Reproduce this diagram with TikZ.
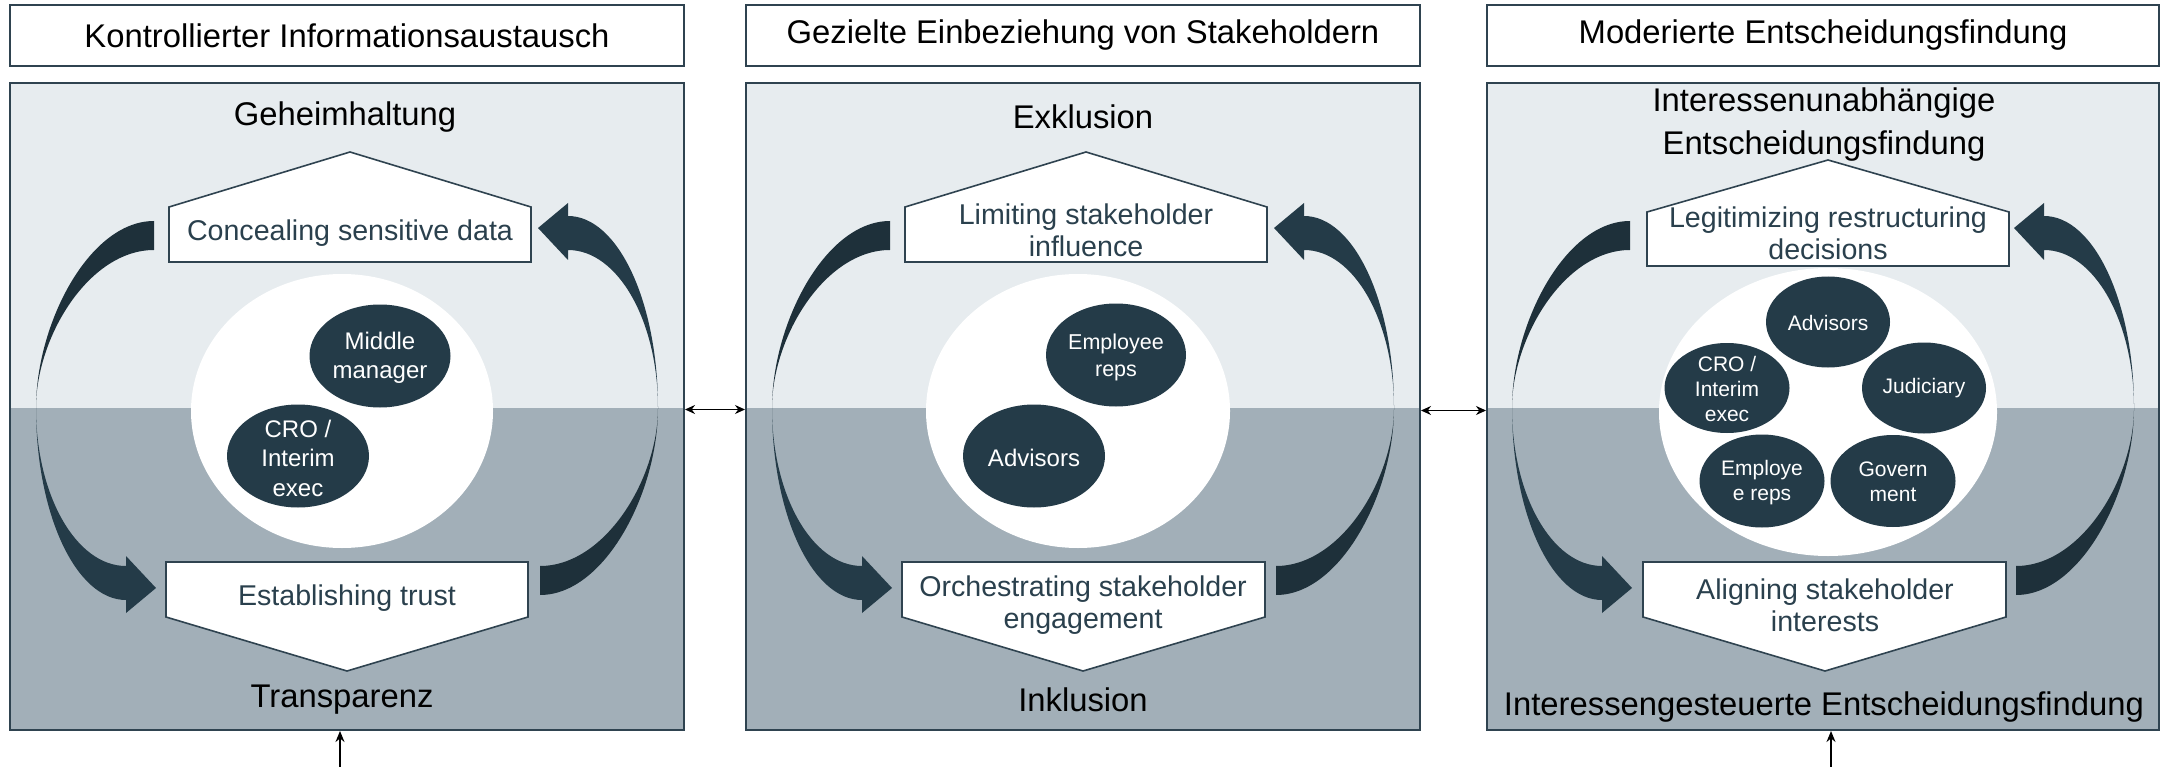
\documentclass[tikz,border=0pt]{standalone}
\usepackage{fontspec}
\setmainfont{Liberation Sans}
\usetikzlibrary{arrows.meta}
\definecolor{lightpanel}{HTML}{E7ECEF}
\definecolor{darkpanel}{HTML}{A2AFB8}
\definecolor{slate}{HTML}{243B48}
\definecolor{slatedark}{HTML}{1E303A}
\definecolor{edge}{HTML}{2F4350}
\definecolor{boxtext}{HTML}{2A404D}
\tikzset{
  pics/cyc/.style={code={
    \fill[slatedark] (-193,-187) .. controls (-258,-187) and (-311,-84) .. (-311,0)
      .. controls (-311,-71) and (-258,-158) .. (-193,-158) -- cycle;
    \fill[slate] (-311,0) .. controls (-311,106) and (-271,192) .. (-221,192)
      -- (-221,205) -- (-191,180) -- (-221,148) -- (-221,158)
      .. controls (-271,158) and (-311,87) .. (-311,0) -- cycle;
  }}
}
\begin{document}
\begin{tikzpicture}[x=1pt,y=-1pt,
  titlebox/.style={draw=edge, line width=1.5pt, fill=white, minimum height=61pt, inner sep=0pt, font=\fontsize{32.8}{38}\selectfont},
  panelframe/.style={draw=edge, line width=2pt, minimum height=647pt, inner sep=0pt},
  lbl/.style={font=\fontsize{32.8}{43}\selectfont, align=center, inner sep=0pt},
  pentbox/.style={draw=edge, line width=1.6pt, fill=white, line join=miter},
  boxtxt/.style={text=boxtext, font=\fontsize{28.6}{32}\selectfont, align=center, inner sep=0pt},
  stk/.style={fill=slate},
  stktext/.style={text=white, align=center, inner sep=0pt, font=\fontsize{24}{29.5}\selectfont},
  stksmall/.style={text=white, align=center, inner sep=0pt, font=\fontsize{21}{25}\selectfont},
  link/.style={line width=1.5pt, {Stealth[length=10pt,width=9pt]}-{Stealth[length=10pt,width=9pt]}},
  uplink/.style={line width=1.5pt, -{Stealth[length=11pt,width=9pt]}}
]
\useasboundingbox (0,0) rectangle (2165,767);

% panel fills
\fill[lightpanel] (10,83) rectangle (684,408);
\fill[darkpanel] (10,408) rectangle (684,730);
\fill[lightpanel] (746,83) rectangle (1420,408);
\fill[darkpanel] (746,408) rectangle (1420,730);
\fill[lightpanel] (1487,83) rectangle (2159,408);
\fill[darkpanel] (1487,408) rectangle (2159,730);

% cycle arrows
\pic at (347,408) {cyc};
\pic[rotate=180] at (347,408) {cyc};
\pic at (1083,408) {cyc};
\pic[rotate=180] at (1083,408) {cyc};
\pic at (1823,408) {cyc};
\pic[rotate=180] at (1823,408) {cyc};

% big white ellipses
\fill[white] (342,411) ellipse [x radius=151pt, y radius=137pt];
\fill[white] (1078,411) ellipse [x radius=152pt, y radius=137pt];
\fill[white] (1828,412) ellipse [x radius=169pt, y radius=144pt];

% stakeholders panel 1
\fill[stk] (380,356) ellipse [x radius=70.5pt, y radius=51.5pt];
\node[stktext] (mm) at (380,358) {Middle\\manager};
\fill[stk] (298,456) ellipse [x radius=71pt, y radius=51.5pt];
\node[stktext] (cro1) at (298,458) {CRO /\\Interim\\exec};
% stakeholders panel 2
\fill[stk] (1116,355) ellipse [x radius=70pt, y radius=51.5pt];
\node[stktext, font=\fontsize{21.5}{27}\selectfont] (emp2) at (1116,357) {Employee\\reps};
\fill[stk] (1034,456) ellipse [x radius=71pt, y radius=51.5pt];
\node[stktext] (adv2) at (1034,458) {Advisors};
% stakeholders panel 3
\fill[stk] (1828,322) ellipse [x radius=62pt, y radius=45.5pt];
\node[stksmall] (adv3) at (1828,323) {Advisors};
\fill[stk] (1727,388) ellipse [x radius=62.5pt, y radius=45pt];
\node[stksmall] (cro3) at (1727,389) {CRO /\\Interim\\exec};
\fill[stk] (1924,388) ellipse [x radius=62pt, y radius=45.5pt];
\node[stksmall] (jud3) at (1924,388) {Judiciary};
\fill[stk] (1762,481) ellipse [x radius=62.5pt, y radius=46.5pt];
\node[stksmall] (emp3) at (1762,483) {Employe\\e reps};
\fill[stk] (1893,481) ellipse [x radius=62.5pt, y radius=46pt];
\node[stksmall] (gov3) at (1893,482) {Govern\\ment};

% top pentagons
\filldraw[pentbox] (169,262) -- (169,207) -- (350,152) -- (531,207) -- (531,262) -- cycle;
\node[boxtxt] (c1) at (350,233) {Concealing sensitive data};
\filldraw[pentbox] (905,262) -- (905,207) -- (1086,152) -- (1267,207) -- (1267,262) -- cycle;
\node[boxtxt] (l2) at (1086,230) {Limiting stakeholder\\influence};
\filldraw[pentbox] (1647,266) -- (1647,212) -- (1828,160) -- (2009,212) -- (2009,266) -- cycle;
% bottom pentagons
\filldraw[pentbox] (166,562) -- (528,562) -- (528,617) -- (347,671) -- (166,617) -- cycle;
\node[boxtxt] (e1) at (347,598) {Establishing trust};
\filldraw[pentbox] (902,562) -- (1265,562) -- (1265,617) -- (1083,671) -- (902,617) -- cycle;
\node[boxtxt] (o2) at (1083,605) {Orchestrating stakeholder\\engagement};
\filldraw[pentbox] (1643,562) -- (2006,562) -- (2006,617) -- (1825,671) -- (1643,617) -- cycle;
\node[boxtxt] (a3) at (1825,605) {Aligning stakeholder\\interests};

% labels
\node[lbl] (g1) at (345,117) {Geheimhaltung};
\node[lbl] (tr1) at (342,700) {Transparenz};
\node[lbl] (x2) at (1083,117) {Exklusion};
\node[lbl] (in2) at (1083,700) {Inklusion};
\node[lbl] (iu3) at (1824,125) {Interessenunabhängige\\Entscheidungsfindung};
\node[boxtxt] (g3) at (1828,233) {Legitimizing restructuring\\decisions};
\node[lbl] (ig3) at (1824,707) {Interessengesteuerte Entscheidungsfindung};

% panel frames
\node[panelframe, minimum width=674pt] (p1) at (347,406.5) {};
\node[panelframe, minimum width=674pt] (p2) at (1083,406.5) {};
\node[panelframe, minimum width=672pt] (p3) at (1823,406.5) {};

% title boxes
\node[titlebox, minimum width=674pt] (t1) at (347,35.5) {Kontrollierter Informationsaustausch};
\node[titlebox, minimum width=674pt] (t2) at (1083,35.5) {Gezielte Einbeziehung von Stakeholdern};
\node[titlebox, minimum width=672pt] (t3) at (1823,35.5) {Moderierte Entscheidungsfindung};

% connectors
\draw[link] ([yshift=-3pt]p1.east) -- ([yshift=-3pt]p2.west);
\draw[link] ([yshift=-4pt]p2.east) -- ([yshift=-4pt]p3.west);
\coordinate (u1) at (340,767);
\coordinate (u3) at (1831,767);
\draw[uplink] (u1) -- (u1 |- p1.south);
\draw[uplink] (u3) -- (u3 |- p3.south);
\end{tikzpicture}
\end{document}
